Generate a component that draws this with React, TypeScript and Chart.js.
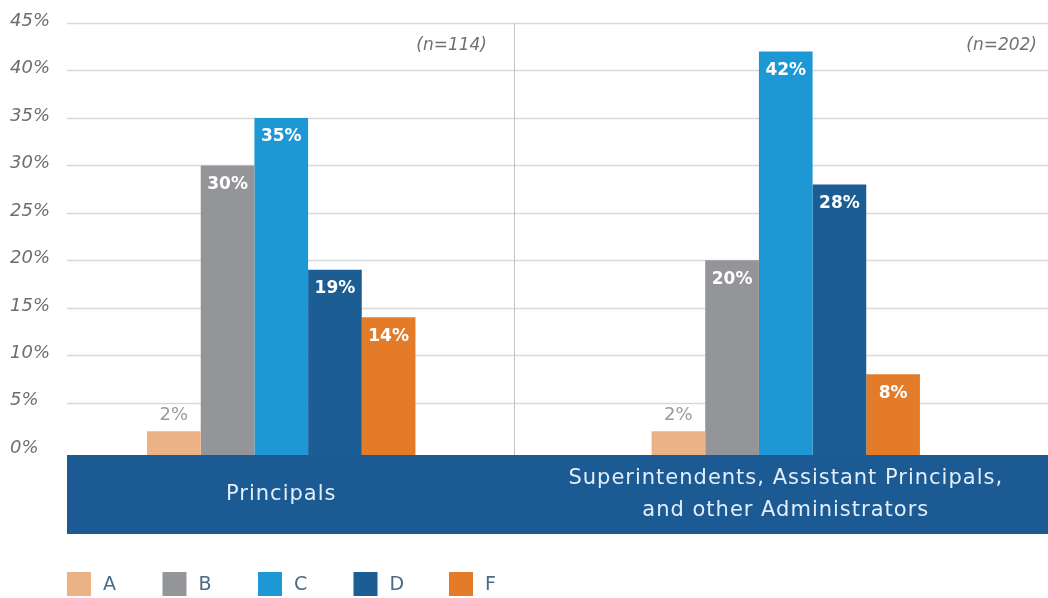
import { useEffect, useRef } from 'react';
import { Chart, registerables } from 'chart.js';

Chart.register(...registerables);

// ---- data ----
const categoryLines: string[][] = [
  ['Principals'],
  ['Superintendents, Assistant Principals,', 'and other Administrators'],
];
const sampleSizes: string[] = ['(n=114)', '(n=202)'];
const gradeNames: string[] = ['A', 'B', 'C', 'D', 'F'];
const gradeA: number[] = [2, 2];
const gradeB: number[] = [30, 20];
const gradeC: number[] = [35, 42];
const gradeD: number[] = [19, 28];
const gradeF: number[] = [14, 8];
const gradeColors: string[] = ['#ebb385', '#939598', '#1e97d5', '#1c5d93', '#e47b29'];
const yTickValues: number[] = [0, 5, 10, 15, 20, 25, 30, 35, 40, 45];
const yTickLabels: string[] = ['0%', '5%', '10%', '15%', '20%', '25%', '30%', '35%', '40%', '45%'];
const yMax = 45;

// ---- style ----
const FONT = '"DejaVu Sans", sans-serif';
const GRID_LEFT = 67;
const GRID_RIGHT = 1048;
const SEPARATOR_X = 514;
const BAND_COLOR = '#1b5a93';
const BAND_BOTTOM = 534;

const decorPlugin = {
  id: 'decor',
  beforeDatasetsDraw(chart: any) {
    const ctx = chart.ctx as CanvasRenderingContext2D;
    const y = chart.scales.y;
    const area = chart.chartArea;
    ctx.save();
    // grid lines
    ctx.strokeStyle = '#d9d9d9';
    ctx.lineWidth = 1.5;
    yTickValues.forEach((v) => {
      if (v <= 0) return;
      const py = Math.round(y.getPixelForValue(v)) + 0.5;
      ctx.beginPath();
      ctx.moveTo(GRID_LEFT, py);
      ctx.lineTo(GRID_RIGHT, py);
      ctx.stroke();
    });
    // separator
    ctx.strokeStyle = '#c4c4c4';
    ctx.lineWidth = 1;
    ctx.beginPath();
    ctx.moveTo(SEPARATOR_X + 0.5, Math.round(y.getPixelForValue(yMax)));
    ctx.lineTo(SEPARATOR_X + 0.5, area.bottom);
    ctx.stroke();
    // tick labels
    ctx.fillStyle = '#6d6e71';
    ctx.font = `italic 18px ${FONT}`;
    ctx.textAlign = 'left';
    ctx.textBaseline = 'middle';
    yTickValues.forEach((v, i) => {
      ctx.fillText(yTickLabels[i], 10, y.getPixelForValue(v) - 2);
    });
    // n labels
    ctx.font = `italic 17px ${FONT}`;
    ctx.textAlign = 'right';
    ctx.fillStyle = '#707174';
    const nY = y.getPixelForValue(yMax) + 23;
    ctx.fillText(sampleSizes[0], 487, nY);
    ctx.fillText(sampleSizes[1], 1037, nY);
    ctx.restore();
  },
  afterDatasetsDraw(chart: any) {
    const ctx = chart.ctx as CanvasRenderingContext2D;
    const x = chart.scales.x;
    const area = chart.chartArea;
    ctx.save();
    // band
    ctx.fillStyle = BAND_COLOR;
    ctx.fillRect(GRID_LEFT, area.bottom, GRID_RIGHT - GRID_LEFT, BAND_BOTTOM - area.bottom);
    // category labels
    ctx.fillStyle = '#e3eef8';
    ctx.font = `21px ${FONT}`;
    (ctx as any).letterSpacing = '1px';
    ctx.textAlign = 'center';
    ctx.textBaseline = 'middle';
    const bandMid = (area.bottom + BAND_BOTTOM) / 2;
    const lineH = 32;
    chart.data.labels.forEach((lbl: string[], i: number) => {
      const cx = x.getPixelForValue(i);
      const n = lbl.length;
      lbl.forEach((line, j) => {
        ctx.fillText(line, cx, bandMid + (j - (n - 1) / 2) * lineH);
      });
    });
    (ctx as any).letterSpacing = '0px';
    // value labels
    chart.data.datasets.forEach((ds: any, di: number) => {
      const meta = chart.getDatasetMeta(di);
      meta.data.forEach((el: any, i: number) => {
        const v = ds.data[i];
        const txt = `${v}%`;
        if (di === 0) {
          ctx.fillStyle = '#9b9b9b';
          ctx.font = `18px ${FONT}`;
          ctx.fillText(txt, el.x, el.y - 16);
        } else {
          ctx.fillStyle = '#ffffff';
          ctx.font = `bold 17px ${FONT}`;
          ctx.fillText(txt, el.x, el.y + 19);
        }
      });
    });
    // legend
    ctx.textAlign = 'left';
    ctx.font = `19px ${FONT}`;
    chart.data.datasets.forEach((ds: any, di: number) => {
      const lx = 67 + di * 95.5;
      ctx.fillStyle = ds.backgroundColor;
      ctx.fillRect(lx, 572, 24, 24);
      ctx.fillStyle = '#4a6a85';
      ctx.fillText(ds.label, lx + 36, 585);
    });
    ctx.restore();
  },
};

export default function App() {
  const ref = useRef<HTMLCanvasElement | null>(null);
  useEffect(() => {
    if (!ref.current) return;
    const series = [gradeA, gradeB, gradeC, gradeD, gradeF];
    const chart = new Chart(ref.current, {
      type: 'bar',
      data: {
        labels: categoryLines as any,
        datasets: series.map((d, i) => ({
          label: gradeNames[i],
          data: d,
          backgroundColor: gradeColors[i],
          borderWidth: 0,
          categoryPercentage: 0.532,
          barPercentage: 1,
          base: -0.5,
        })) as any,
      },
      options: {
        responsive: false,
        animation: false,
        devicePixelRatio: 1,
        layout: { padding: { left: 29, right: 10, top: 23, bottom: 143 } },
        plugins: { legend: { display: false }, tooltip: { enabled: false } },
        scales: {
          x: { display: false, offset: true, grid: { display: false } },
          y: { display: false, min: -0.5, max: yMax, ticks: { stepSize: 5 } },
        },
      },
      plugins: [decorPlugin],
    });
    return () => chart.destroy();
  }, []);
  return (
    <div style={{ position: 'absolute', left: 0, top: 0, width: 1048, height: 598, background: '#fff' }}>
      <canvas ref={ref} width={1048} height={598} />
    </div>
  );
}
